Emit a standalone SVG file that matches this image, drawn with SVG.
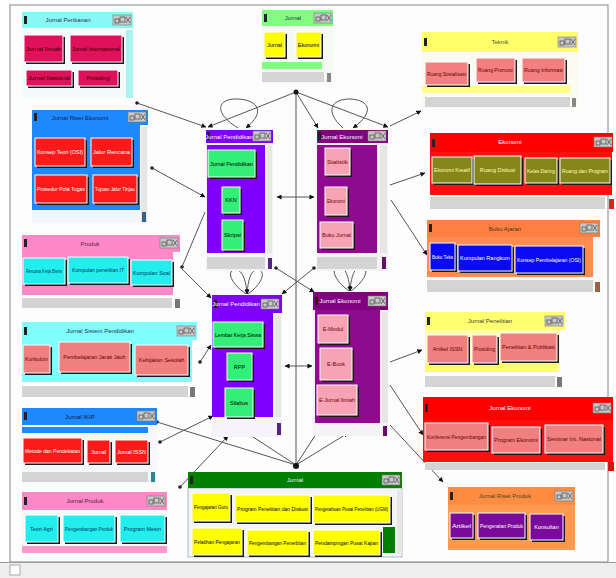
<svg xmlns="http://www.w3.org/2000/svg" xmlns:xlink="http://www.w3.org/1999/xlink" width="616" height="578" viewBox="0 0 616 578">
<style>
text{font-family:"Liberation Sans",Arial,sans-serif}
.ht{font-size:6px;text-anchor:middle}
.bt{font-size:5.5px;text-anchor:middle}
.bs{font-size:4.5px}
.sh{fill:#1a1a1a}
.bf{stroke:#fff;stroke-width:1}
.sb{fill:#d4d4d4}
.vs{fill:#e6e6e6}
.cn{fill:none;stroke:#555;stroke-width:1}
</style>
<defs>
<marker id="ar" viewBox="0 0 6 6" refX="5.5" refY="3" markerWidth="5" markerHeight="5" orient="auto-start-reverse"><path d="M0,0 L6,3 L0,6 z" fill="#111"/></marker>
<marker id="dt" viewBox="0 0 4 4" refX="2" refY="2" markerWidth="4" markerHeight="4"><circle cx="2" cy="2" r="1.8" fill="#222"/></marker>
<g id="ctl"><rect x="0" y="0" width="18" height="10" fill="#c8c8c8" stroke="#777" stroke-width="0.6"/><rect x="2" y="4" width="4" height="4" fill="none" stroke="#333" stroke-width="0.6"/><rect x="7" y="2" width="5" height="5" fill="none" stroke="#333" stroke-width="0.6"/><path d="M13,2 L17,8 M17,2 L13,8" stroke="#333" stroke-width="0.6"/></g>
<g id="lic"><rect x="0" y="0" width="3" height="8" fill="#222"/></g>
</defs>
<rect width="616" height="578" fill="#fff"/>
<rect x="10" y="5" width="598" height="557" fill="#fdfdfd" stroke="#9a9a9a" stroke-width="1.2"/>
<rect x="0" y="562" width="616" height="16" fill="#eeeeee"/>
<line x1="0" y1="562.5" x2="616" y2="562.5" stroke="#999"/>
<rect x="10" y="565" width="10" height="10" fill="#fff" stroke="#aaa"/>

<g id="connectors">
<path class="cn" d="M137,103 L206,127" marker-start="url(#dt)" marker-end="url(#ar)"/>
<path class="cn" d="M296,92 L208,127" marker-end="url(#ar)"/>
<path class="cn" d="M296,92 L318,128" marker-end="url(#ar)"/>
<path class="cn" d="M296,92 L388,127" marker-end="url(#ar)"/>
<path class="cn" d="M390,126 L421,111" marker-end="url(#ar)"/>
<path class="cn" d="M296,92 L296,465"/>
<path class="cn" d="M276,268 L314,292" marker-start="url(#dt)" marker-end="url(#ar)"/>
<path class="cn" d="M314,268 L282,294" marker-start="url(#dt)" marker-end="url(#ar)"/>
<path class="cn" d="M277,197 L314,197" marker-start="url(#ar)" marker-end="url(#ar)"/>
<path class="cn" d="M285,366 L312,366" marker-start="url(#ar)" marker-end="url(#ar)"/>
<path class="cn" d="M152,168 L205,197" marker-start="url(#dt)" marker-end="url(#ar)"/>
<path class="cn" d="M205,212 L182,267" marker-end="url(#dt)"/>
<path class="cn" d="M182,269 L211,298" marker-end="url(#ar)"/>
<path class="cn" d="M200,362 L211,345" marker-start="url(#dt)" marker-end="url(#ar)"/>
<path class="cn" d="M157,422 L296,465" marker-start="url(#dt)"/>
<path class="cn" d="M160,442 L213,416" marker-start="url(#dt)" marker-end="url(#ar)"/>
<path class="cn" d="M180,487 L228,436" marker-start="url(#dt)" marker-end="url(#ar)"/>
<path class="cn" d="M296,465 L247,433" marker-end="url(#ar)"/>
<path class="cn" d="M296,465 L318,431" marker-end="url(#ar)"/>
<path class="cn" d="M296,465 L348,433" marker-end="url(#ar)"/>
<path class="cn" d="M390,185 L425,173" marker-end="url(#ar)"/>
<path class="cn" d="M391,200 L427,255" marker-end="url(#ar)"/>
<path class="cn" d="M390,362 L422,350" marker-end="url(#ar)"/>
<path class="cn" d="M390,385 L423,435" marker-end="url(#ar)"/>
<path class="cn" d="M390,425 L443,482" marker-end="url(#ar)"/>
<path class="cn" d="M238,128 C212,112 218,98 238,99 C258,100 266,112 246,128" marker-end="url(#ar)"/>
<path class="cn" d="M343,128 C325,112 330,99 350,99 C370,100 375,112 353,128" marker-end="url(#ar)"/>
<path class="cn" d="M246,294 C232,284 226,272 234,270 C242,268 246,280 247,294" marker-end="url(#ar)"/>
<path class="cn" d="M248,294 C262,284 266,272 259,270 C251,268 248,280 247,294" marker-end="url(#ar)"/>
<path class="cn" d="M349,291 C335,281 330,269 338,267 C346,266 349,278 350,291" marker-end="url(#ar)"/>
<path class="cn" d="M351,291 C365,281 370,269 362,267 C354,266 351,278 350,291" marker-end="url(#ar)"/>
<circle cx="296" cy="92" r="2.5" fill="#111"/>
<circle cx="296" cy="466" r="3" fill="#111"/>
</g>

<g id="w1">
<rect x="22" y="28" width="111" height="70" fill="#f4fbfb"/>
<rect x="22" y="12" width="111" height="16" fill="#88f8f4"/>
<use href="#lic" x="24" y="16"/><use href="#ctl" x="113" y="15"/>
<text class="ht" x="68" y="22" fill="#335">Jurnal Perikanan</text>
<rect x="126" y="30" width="7" height="68" fill="#a8f4f0"/>
<g><rect class="sh" x="26" y="37" width="39" height="27"/><rect class="bf" x="24" y="35" width="39" height="27" fill="#e0105a"/><text class="bt" x="43.5" y="50.5" fill="#300" textLength="35" lengthAdjust="spacingAndGlyphs">Jurnal Ilmiah</text></g>
<g><rect class="sh" x="72" y="37" width="52" height="27"/><rect class="bf" x="70" y="35" width="52" height="27" fill="#e0105a"/><text class="bt" x="96" y="50.5" fill="#300" textLength="48" lengthAdjust="spacingAndGlyphs">Jurnal Internasional</text></g>
<g><rect class="sh" x="28" y="72" width="46" height="16"/><rect class="bf" x="26" y="70" width="46" height="16" fill="#e0105a"/><text class="bt" x="49" y="80" fill="#300" textLength="42" lengthAdjust="spacingAndGlyphs">Jurnal Nasional</text></g>
<g><rect class="sh" x="80" y="72" width="40" height="16"/><rect class="bf" x="78" y="70" width="40" height="16" fill="#e0105a"/><text class="bt" x="98" y="80" fill="#300">Prosiding</text></g>
</g>

<g id="w2">
<rect x="262" y="26" width="71" height="58" fill="#f4f9f4"/>
<rect x="262" y="10" width="71" height="16" fill="#80ff80"/>
<use href="#lic" x="264" y="14"/><use href="#ctl" x="314" y="13"/>
<text class="ht" x="293" y="20" fill="#234">Jurnal</text>
<rect x="262" y="62" width="60" height="7" fill="#80ff80"/>
<g><rect class="sh" x="266" y="34" width="21" height="25"/><rect class="bf" x="264" y="32" width="21" height="25" fill="#ffff00"/><text class="bt" x="274.5" y="46.5" fill="#000">Jurnal</text></g>
<g><rect class="sh" x="298" y="34" width="25" height="25"/><rect class="bf" x="296" y="32" width="25" height="25" fill="#ffff00"/><text class="bt" x="308.5" y="46.5" fill="#000">Ekonomi</text></g>
<rect class="sb" x="262" y="72" width="62" height="10"/><rect x="327" y="73" width="4" height="9" fill="#888"/>
</g>

<g id="w3">
<rect x="422" y="52" width="156" height="56" fill="#fbfbf2"/>
<rect x="422" y="32" width="156" height="20" fill="#ffff6a"/>
<use href="#lic" x="424" y="38"/><use href="#ctl" x="558" y="37"/>
<text class="ht" x="500" y="44" fill="#553">Teknik</text>
<rect x="422" y="86" width="148" height="7" fill="#ffff88"/>
<g><rect class="sh" x="427" y="64" width="43" height="23"/><rect class="bf" x="425" y="62" width="43" height="23" fill="#f28080"/><text class="bt" x="446.5" y="75.5" fill="#600" textLength="39" lengthAdjust="spacingAndGlyphs">Ruang Sosialisasi</text></g>
<g><rect class="sh" x="478" y="60" width="39" height="24"/><rect class="bf" x="476" y="58" width="39" height="24" fill="#f28080"/><text class="bt" x="495.5" y="72" fill="#600" textLength="35" lengthAdjust="spacingAndGlyphs">Ruang Promosi</text></g>
<g><rect class="sh" x="524" y="60" width="43" height="24"/><rect class="bf" x="522" y="58" width="43" height="24" fill="#f28080"/><text class="bt" x="543.5" y="72" fill="#600" textLength="39" lengthAdjust="spacingAndGlyphs">Ruang Informasi</text></g>
<rect class="sb" x="425" y="97" width="145" height="10"/><rect x="572" y="98" width="4" height="9" fill="#888"/>
</g>

<g id="w4">
<rect x="32" y="110" width="116" height="113" fill="#f4f6fb"/>
<rect x="32" y="110" width="116" height="15" fill="#1e88ff"/>
<use href="#lic" x="34" y="113"/><use href="#ctl" x="128" y="112"/>
<text class="ht" x="80" y="120" fill="#124">Jurnal Riset Ekonomi</text>
<rect x="32" y="125" width="108" height="85" fill="#1e88ff"/>
<rect class="vs" x="141" y="127" width="6" height="95"/>
<g><rect class="sh" x="37" y="140" width="50" height="28"/><rect class="bf" x="35" y="138" width="50" height="28" fill="#ff1a1a"/><text class="bt" x="60" y="154" fill="#fff" textLength="46" lengthAdjust="spacingAndGlyphs">Konsep Teori (OSI)</text></g>
<g><rect class="sh" x="93" y="140" width="41" height="28"/><rect class="bf" x="91" y="138" width="41" height="28" fill="#ff1a1a"/><text class="bt" x="111.5" y="154" fill="#fff" textLength="37" lengthAdjust="spacingAndGlyphs">Jalur Rencana</text></g>
<g><rect class="sh" x="37" y="177" width="52" height="28"/><rect class="bf" x="35" y="175" width="52" height="28" fill="#ff1a1a"/><text class="bt" x="61" y="191" fill="#fff" textLength="48" lengthAdjust="spacingAndGlyphs">Prosedur Pola Tugas</text></g>
<g><rect class="sh" x="95" y="177" width="44" height="28"/><rect class="bf" x="93" y="175" width="44" height="28" fill="#ff1a1a"/><text class="bt" x="115" y="191" fill="#fff" textLength="40" lengthAdjust="spacingAndGlyphs">Tujuan Jalur Tinjau</text></g>
<rect x="142" y="212" width="4" height="10" fill="#3a5f8a"/>
</g>

<g id="w5">
<rect x="206" y="143" width="67" height="128" fill="#f6f3fb"/>
<rect x="206" y="130" width="67" height="13" fill="#8000ff"/>
<use href="#lic" x="207" y="132"/><use href="#ctl" x="253" y="131"/>
<text class="ht" x="229" y="139" fill="#fff">Jurnal Pendidikan</text>
<rect x="207" y="145" width="58" height="108" fill="#8000ff"/>
<rect class="vs" x="267" y="145" width="5" height="108"/>
<g><rect class="sh" x="210" y="152" width="47" height="27"/><rect class="bf" x="208" y="150" width="47" height="27" fill="#33ee77"/><text class="bt" x="231.5" y="165.5" fill="#000" textLength="43" lengthAdjust="spacingAndGlyphs">Jurnal Pendidikan</text></g>
<g><rect class="sh" x="224" y="189" width="18" height="26"/><rect class="bf" x="222" y="187" width="18" height="26" fill="#33ee77"/><text class="bt" x="231" y="202" fill="#000">KKN</text></g>
<g><rect class="sh" x="224" y="222" width="21" height="30"/><rect class="bf" x="222" y="220" width="21" height="30" fill="#33ee77"/><text class="bt" x="232.5" y="237" fill="#000" textLength="17" lengthAdjust="spacingAndGlyphs">Skripsi</text></g>
<rect class="sb" x="207" y="257" width="58" height="12" fill="#e8e8ee"/><rect x="268" y="258" width="4" height="11" fill="#552288"/>
</g>

<g id="w6">
<rect x="317" y="143" width="71" height="128" fill="#f6f3f6"/>
<rect x="317" y="130" width="71" height="13" fill="#800080"/>
<use href="#lic" x="318" y="132"/><use href="#ctl" x="368" y="131"/>
<text class="ht" x="342" y="139" fill="#fff">Jurnal Ekonomi</text>
<rect x="317" y="145" width="60" height="108" fill="#8e0b8e"/>
<rect class="vs" x="380" y="145" width="7" height="108"/>
<g><rect class="sh" x="327" y="150" width="25" height="27"/><rect class="bf" x="325" y="148" width="25" height="27" fill="#f5a3b5"/><text class="bt" x="337.5" y="163.5" fill="#700" textLength="21" lengthAdjust="spacingAndGlyphs">Statistik</text></g>
<g><rect class="sh" x="327" y="189" width="22" height="28"/><rect class="bf" x="325" y="187" width="22" height="28" fill="#f5a3b5"/><text class="bt" x="336" y="203" fill="#700" textLength="18" lengthAdjust="spacingAndGlyphs">Ekonomi</text></g>
<g><rect class="sh" x="322" y="224" width="33" height="26"/><rect class="bf" x="320" y="222" width="33" height="26" fill="#f5a3b5"/><text class="bt" x="336.5" y="237" fill="#700" textLength="29" lengthAdjust="spacingAndGlyphs">Buku Jurnal</text></g>
<rect class="sb" x="317" y="257" width="60" height="12" fill="#eee8ee"/><rect x="382" y="257" width="4" height="12" fill="#661166"/>
</g>

<g id="w7">
<rect x="430" y="133" width="183" height="19" fill="#ff0000"/>
<use href="#lic" x="432" y="139"/><use href="#ctl" x="594" y="137"/>
<text class="ht" x="510" y="144" fill="#fff">Ekonomi</text>
<rect x="430" y="152" width="182" height="43" fill="#ff1010"/>
<g><rect class="sh" x="434" y="159" width="40" height="26"/><rect class="bf" x="432" y="157" width="40" height="26" fill="#85851a"/><text class="bt" x="452" y="172" fill="#ffffb0" textLength="36" lengthAdjust="spacingAndGlyphs">Ekonomi Kreatif</text></g>
<g><rect class="sh" x="476" y="158" width="47" height="28"/><rect class="bf" x="474" y="156" width="47" height="28" fill="#85851a"/><text class="bt" x="497.5" y="172" fill="#ffffb0">Ruang Diskusi</text></g>
<g><rect class="sh" x="527" y="160" width="32" height="25"/><rect class="bf" x="525" y="158" width="32" height="25" fill="#85851a"/><text class="bt" x="541" y="172.5" fill="#ffffb0" textLength="28" lengthAdjust="spacingAndGlyphs">Kelas Daring</text></g>
<g><rect class="sh" x="562" y="160" width="50" height="25"/><rect class="bf" x="560" y="158" width="50" height="25" fill="#85851a"/><text class="bt" x="585" y="172.5" fill="#ffffb0" textLength="46" lengthAdjust="spacingAndGlyphs">Ruang dan Program</text></g>
<rect class="sb" x="430" y="197" width="175" height="12"/><rect x="609" y="199" width="5" height="10" fill="#dd2222"/>
</g>

<g id="w8">
<rect x="427" y="220" width="173" height="17" fill="#ff8040"/>
<use href="#lic" x="429" y="224"/><use href="#ctl" x="580" y="223"/>
<text class="ht" x="505" y="231" fill="#432">Buku Ajaran</text>
<rect x="427" y="237" width="166" height="40" fill="#ff8c50"/>
<g><rect class="sh" x="432" y="245" width="25" height="27"/><rect class="bf" x="430" y="243" width="25" height="27" fill="#0a0af5"/><text class="bt" x="442.5" y="258.5" fill="#fff" textLength="21" lengthAdjust="spacingAndGlyphs">Buku Teks</text></g>
<g><rect class="sh" x="460" y="247" width="54" height="26"/><rect class="bf" x="458" y="245" width="54" height="26" fill="#0a0af5"/><text class="bt" x="485" y="260" fill="#fff">Kumpulan Rangkum</text></g>
<g><rect class="sh" x="517" y="248" width="68" height="27"/><rect class="bf" x="515" y="246" width="68" height="27" fill="#0a0af5"/><text class="bt" x="549" y="261.5" fill="#fff" textLength="64" lengthAdjust="spacingAndGlyphs">Konsep Pembelajaran (OSI)</text></g>
<rect class="sb" x="427" y="280" width="166" height="12" fill="#ececec"/><rect x="595" y="282" width="5" height="10" fill="#996644"/>
</g>

<g id="w9">
<rect x="22" y="235" width="158" height="17" fill="#ff88c8"/>
<use href="#lic" x="24" y="239"/><use href="#ctl" x="160" y="238"/>
<text class="ht" x="90" y="246" fill="#523">Produk</text>
<rect x="22" y="252" width="151" height="43" fill="#ff88c8"/>
<g><rect class="sh" x="25" y="260" width="42" height="26"/><rect class="bf" x="23" y="258" width="42" height="26" fill="#22eeee"/><text class="bt bs" x="44" y="273" fill="#036" textLength="36" lengthAdjust="spacingAndGlyphs">Rencana Kerja Bisnis</text></g>
<g><rect class="sh" x="70" y="259" width="60" height="26"/><rect class="bf" x="68" y="257" width="60" height="26" fill="#22eeee"/><text class="bt bs" x="98" y="272" fill="#036" textLength="52" lengthAdjust="spacingAndGlyphs">Kumpulan penelitian IT</text></g>
<g><rect class="sh" x="133" y="262" width="41" height="25"/><rect class="bf" x="131" y="260" width="41" height="25" fill="#22eeee"/><text class="bt" x="151.5" y="274.5" fill="#036">Kumpulan Soal</text></g>
<rect class="sb" x="22" y="298" width="150" height="10"/><rect x="175" y="299" width="5" height="9" fill="#777"/>
</g>

<g id="w10">
<rect x="22" y="322" width="175" height="18" fill="#80ffff"/>
<use href="#lic" x="24" y="327"/><use href="#ctl" x="177" y="326"/>
<text class="ht" x="100" y="333" fill="#234">Jurnal Sistem Pendidikan</text>
<rect x="22" y="340" width="170" height="42" fill="#80ffff"/>
<g><rect class="sh" x="25" y="347" width="27" height="28"/><rect class="bf" x="23" y="345" width="27" height="28" fill="#f08080"/><text class="bt" x="36.5" y="361" fill="#600" textLength="23" lengthAdjust="spacingAndGlyphs">Kurikulum</text></g>
<g><rect class="sh" x="61" y="344" width="71" height="30"/><rect class="bf" x="59" y="342" width="71" height="30" fill="#f08080"/><text class="bt" x="94.5" y="359" fill="#600">Pembelajaran Jarak Jauh</text></g>
<g><rect class="sh" x="137" y="347" width="53" height="30"/><rect class="bf" x="135" y="345" width="53" height="30" fill="#f08080"/><text class="bt" x="161.5" y="362" fill="#600">Kebijakan Sekolah</text></g>
<rect class="sb" x="22" y="386" width="166" height="11"/><rect x="190" y="387" width="5" height="10" fill="#777"/>
</g>

<g id="w11">
<rect x="212" y="313" width="70" height="124" fill="#f6f3fb"/>
<rect x="212" y="295" width="70" height="18" fill="#8000ff"/>
<use href="#lic" x="214" y="300"/><use href="#ctl" x="261" y="299"/>
<text class="ht" x="236" y="306" fill="#fff">Jurnal Pendidikan</text>
<rect x="212" y="313" width="61" height="104" fill="#8000ff"/>
<rect class="vs" x="275" y="315" width="6" height="102"/>
<g><rect class="sh" x="215" y="324" width="50" height="25"/><rect class="bf" x="213" y="322" width="50" height="25" fill="#33ee77"/><text class="bt" x="238" y="336.5" fill="#000" textLength="46" lengthAdjust="spacingAndGlyphs">Lembar Kerja Siswa</text></g>
<g><rect class="sh" x="229" y="355" width="25" height="27"/><rect class="bf" x="227" y="353" width="25" height="27" fill="#33ee77"/><text class="bt" x="239.5" y="368.5" fill="#000">RPP</text></g>
<g><rect class="sh" x="227" y="390" width="28" height="29"/><rect class="bf" x="225" y="388" width="28" height="29" fill="#33ee77"/><text class="bt" x="239" y="404.5" fill="#000">Silabus</text></g>
<rect x="277" y="423" width="4" height="12" fill="#552288"/>
</g>

<g id="w12">
<rect x="313" y="310" width="75" height="126" fill="#f6f3f6"/>
<rect x="313" y="292" width="75" height="18" fill="#800080"/>
<use href="#lic" x="315" y="297"/><use href="#ctl" x="368" y="296"/>
<text class="ht" x="340" y="303" fill="#fff">Jurnal Ekonomi</text>
<rect x="315" y="310" width="65" height="113" fill="#8e0b8e"/>
<rect class="vs" x="382" y="312" width="6" height="111"/>
<g><rect class="sh" x="320" y="317" width="30" height="28"/><rect class="bf" x="318" y="315" width="30" height="28" fill="#f5a3b5"/><text class="bt" x="333" y="331" fill="#700">E-Modul</text></g>
<g><rect class="sh" x="322" y="350" width="32" height="32"/><rect class="bf" x="320" y="348" width="32" height="32" fill="#f5a3b5"/><text class="bt" x="336" y="366" fill="#700">E-Book</text></g>
<g><rect class="sh" x="319" y="387" width="40" height="30"/><rect class="bf" x="317" y="385" width="40" height="30" fill="#f5a3b5"/><text class="bt" x="337" y="402" fill="#700" textLength="36" lengthAdjust="spacingAndGlyphs">E-Jurnal Ilmiah</text></g>
<rect x="383" y="426" width="4" height="10" fill="#661166"/>
</g>

<g id="w13">
<rect x="425" y="312" width="140" height="18" fill="#ffff70"/>
<use href="#lic" x="427" y="317"/><use href="#ctl" x="545" y="316"/>
<text class="ht" x="490" y="323" fill="#443">Jurnal Penelitian</text>
<rect x="425" y="330" width="135" height="42" fill="#ffffb0"/>
<rect x="425" y="363" width="132" height="9" fill="#ffff66"/>
<g><rect class="sh" x="429" y="337" width="41" height="28"/><rect class="bf" x="427" y="335" width="41" height="28" fill="#f08080"/><text class="bt" x="447.5" y="351" fill="#600">Artikel ISSN</text></g>
<g><rect class="sh" x="474" y="337" width="25" height="28"/><rect class="bf" x="472" y="335" width="25" height="28" fill="#f08080"/><text class="bt" x="484.5" y="351" fill="#600" textLength="21" lengthAdjust="spacingAndGlyphs">Prosiding</text></g>
<g><rect class="sh" x="502" y="335" width="57" height="28"/><rect class="bf" x="500" y="333" width="57" height="28" fill="#f08080"/><text class="bt" x="528.5" y="349" fill="#600" textLength="53" lengthAdjust="spacingAndGlyphs">Penelitian &amp; Publikasi</text></g>
<rect class="sb" x="425" y="376" width="130" height="11"/><rect x="557" y="377" width="5" height="10" fill="#777"/>
</g>

<g id="w14">
<rect x="423" y="397" width="190" height="23" fill="#ff0000"/>
<use href="#lic" x="425" y="404"/><use href="#ctl" x="593" y="403"/>
<text class="ht" x="510" y="410" fill="#fff">Jurnal Ekonomi</text>
<rect x="423" y="420" width="190" height="42" fill="#ff1010"/>
<g><rect class="sh" x="427" y="425" width="63" height="27"/><rect class="bf" x="425" y="423" width="63" height="27" fill="#f08080"/><text class="bt" x="456.5" y="438.5" fill="#600" textLength="59" lengthAdjust="spacingAndGlyphs">Konferensi Pengembangan</text></g>
<g><rect class="sh" x="494" y="429" width="48" height="26"/><rect class="bf" x="492" y="427" width="48" height="26" fill="#f08080"/><text class="bt" x="516" y="442" fill="#600">Program Ekonomi</text></g>
<g><rect class="sh" x="547" y="427" width="58" height="28"/><rect class="bf" x="545" y="425" width="58" height="28" fill="#f08080"/><text class="bt" x="574" y="441" fill="#600" textLength="54" lengthAdjust="spacingAndGlyphs">Seminar Int. Nasional</text></g>
<rect class="sb" x="425" y="463" width="180" height="7"/><rect x="608" y="462" width="6" height="9" fill="#dd1111"/>
</g>

<g id="w15">
<rect x="22" y="425" width="135" height="58" fill="#f6f7fb"/>
<rect x="22" y="408" width="135" height="17" fill="#1e88ff"/>
<use href="#lic" x="24" y="412"/><use href="#ctl" x="137" y="411"/>
<text class="ht" x="80" y="419" fill="#124">Jurnal IKIP</text>
<rect x="22" y="427" width="126" height="6" fill="#1e88ff"/>
<g><rect class="sh" x="25" y="440" width="59" height="25"/><rect class="bf" x="23" y="438" width="59" height="25" fill="#ff1a1a"/><text class="bt" x="52.5" y="452.5" fill="#fff" textLength="55" lengthAdjust="spacingAndGlyphs">Metode dan Pendekatan</text></g>
<g><rect class="sh" x="89" y="442" width="23" height="23"/><rect class="bf" x="87" y="440" width="23" height="23" fill="#ff1a1a"/><text class="bt" x="98.5" y="453.5" fill="#fff">Jurnal</text></g>
<g><rect class="sh" x="117" y="442" width="33" height="23"/><rect class="bf" x="115" y="440" width="33" height="23" fill="#ff1a1a"/><text class="bt" x="131.5" y="453.5" fill="#fff" textLength="29" lengthAdjust="spacingAndGlyphs">Jurnal ISSN</text></g>
<rect class="sb" x="22" y="472" width="126" height="10"/><rect x="151" y="472" width="4" height="10" fill="#2a8a8a"/>
</g>

<g id="w16">
<rect x="22" y="510" width="145" height="43" fill="#f7f7f7"/>
<rect x="22" y="492" width="145" height="18" fill="#ff88c8"/>
<use href="#lic" x="24" y="497"/><use href="#ctl" x="147" y="496"/>
<text class="ht" x="85" y="503" fill="#523">Jurnal Produk</text>
<rect x="22" y="546" width="145" height="7" fill="#ff99cc"/>
<g><rect class="sh" x="27" y="517" width="33" height="27"/><rect class="bf" x="25" y="515" width="33" height="27" fill="#22eeee"/><text class="bt" x="41.5" y="530.5" fill="#036">Teori Agri</text></g>
<g><rect class="sh" x="65" y="517" width="52" height="27"/><rect class="bf" x="63" y="515" width="52" height="27" fill="#22eeee"/><text class="bt" x="89" y="530.5" fill="#036" textLength="48" lengthAdjust="spacingAndGlyphs">Pengembangan Produk</text></g>
<g><rect class="sh" x="122" y="517" width="45" height="27"/><rect class="bf" x="120" y="515" width="45" height="27" fill="#22eeee"/><text class="bt" x="142.5" y="530.5" fill="#036">Program Mesin</text></g>
</g>

<g id="w17">
<rect x="188" y="488" width="214" height="69" fill="#f2f4f6" stroke="#9ab" stroke-width="0.8"/>
<rect x="188" y="472" width="214" height="16" fill="#008000"/>
<use href="#lic" x="190" y="476"/><use href="#ctl" x="382" y="475"/>
<text class="ht" x="295" y="482" fill="#eef">Jurnal</text>
<rect x="383" y="527" width="12" height="26" fill="#008000"/>
<rect class="vs" x="397" y="490" width="5" height="64"/>
<g><rect class="sh" x="194" y="495" width="38" height="28"/><rect class="bf" x="192" y="493" width="38" height="28" fill="#ffff00"/><text class="bt" x="211" y="509" fill="#000" textLength="34" lengthAdjust="spacingAndGlyphs">Pengajaran Guru</text></g>
<g><rect class="sh" x="237" y="497" width="75" height="27"/><rect class="bf" x="235" y="495" width="75" height="27" fill="#ffff00"/><text class="bt" x="272.5" y="510.5" fill="#000" textLength="71" lengthAdjust="spacingAndGlyphs">Program Penelitian dan Diskusi</text></g>
<g><rect class="sh" x="315" y="497" width="77" height="28"/><rect class="bf" x="313" y="495" width="77" height="28" fill="#ffff00"/><text class="bt" x="351.5" y="511" fill="#000" textLength="73" lengthAdjust="spacingAndGlyphs">Pengetahuan Pusat Penelitian (UGM)</text></g>
<g><rect class="sh" x="194" y="530" width="50" height="27"/><rect class="bf" x="192" y="528" width="50" height="27" fill="#ffff00"/><text class="bt" x="217" y="543.5" fill="#000" textLength="46" lengthAdjust="spacingAndGlyphs">Pelatihan Pengajaran</text></g>
<g><rect class="sh" x="249" y="532" width="61" height="25"/><rect class="bf" x="247" y="530" width="61" height="25" fill="#ffff00"/><text class="bt" x="277.5" y="544.5" fill="#000" textLength="57" lengthAdjust="spacingAndGlyphs">Pengembangan Penerbitan</text></g>
<g><rect class="sh" x="315" y="532" width="67" height="25"/><rect class="bf" x="313" y="530" width="67" height="25" fill="#ffff00"/><text class="bt" x="346.5" y="544.5" fill="#000" textLength="63" lengthAdjust="spacingAndGlyphs">Pendampingan Pusat Kajian</text></g>
</g>

<g id="w18">
<rect x="448" y="487" width="127" height="18" fill="#ff8c40"/>
<use href="#lic" x="450" y="492"/><use href="#ctl" x="555" y="491"/>
<text class="ht" x="505" y="498" fill="#442">Jurnal Riset Produk</text>
<rect x="448" y="505" width="127" height="45" fill="#ff9a50"/>
<g><rect class="sh" x="452" y="515" width="23" height="25"/><rect class="bf" x="450" y="513" width="23" height="25" fill="#7a0a99"/><text class="bt" x="461.5" y="527.5" fill="#fff" textLength="19" lengthAdjust="spacingAndGlyphs">Artikel</text></g>
<g><rect class="sh" x="480" y="515" width="47" height="25"/><rect class="bf" x="478" y="513" width="47" height="25" fill="#7a0a99"/><text class="bt" x="501.5" y="527.5" fill="#fff" textLength="43" lengthAdjust="spacingAndGlyphs">Pengenalan Produk</text></g>
<g><rect class="sh" x="532" y="516" width="33" height="26"/><rect class="bf" x="530" y="514" width="33" height="26" fill="#7a0a99"/><text class="bt" x="546.5" y="529" fill="#fff">Konsultan</text></g>
</g>
</svg>
